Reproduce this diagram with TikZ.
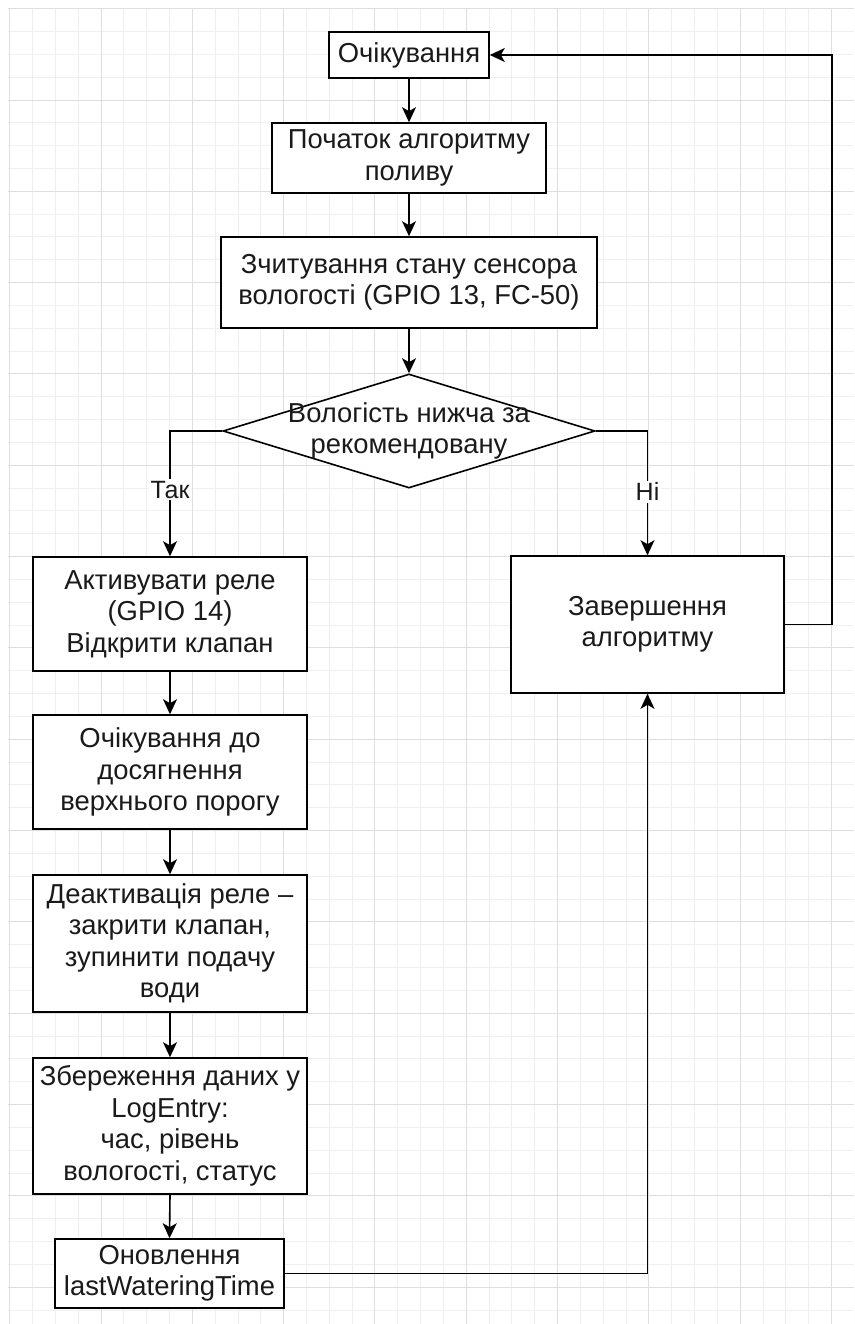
\documentclass[tikz,border=0pt]{standalone}
\usepackage{fontspec}
\setmainfont{Liberation Sans}
\usetikzlibrary{shapes.geometric,arrows.meta}
\definecolor{gridminor}{HTML}{EFEFEF}
\definecolor{gridmajor}{HTML}{DEDEDE}
\definecolor{ink}{HTML}{1A1A1A}
\begin{document}
\begin{tikzpicture}[x=1pt,y=-1pt,
  box/.style={draw=black, line width=1.6pt, fill=white, inner sep=0pt, align=center, text=ink,
    font=\fontsize{27.4}{31.5}\selectfont},
  decbox/.style={draw=black, line width=1.6pt, fill=white, diamond, inner sep=0pt},
  arr/.style={line width=1.6pt, -{Stealth[length=15pt,width=14pt,inset=4pt]}},
  lbl/.style={fill=white, inner sep=2pt, text=ink, font=\fontsize{25}{28}\selectfont}
]
\useasboundingbox (0,0) rectangle (854,1324);
\fill[white] (0,0) rectangle (854,1324);
\begin{scope}
  \clip (8,8) rectangle (854,1324);
  \foreach \i in {0,...,37} \draw[gridminor, line width=1pt] ({9.7+22.83*\i},8) -- ({9.7+22.83*\i},1324);
  \foreach \i in {0,...,58} \draw[gridminor, line width=1pt] (8,{8.7+22.83*\i}) -- (854,{8.7+22.83*\i});
  \foreach \i in {0,...,9} \draw[gridmajor, line width=1pt] ({9.7+91.32*\i},8) -- ({9.7+91.32*\i},1324);
  \foreach \i in {0,...,14} \draw[gridmajor, line width=1pt] (8,{8.7+91.32*\i}) -- (854,{8.7+91.32*\i});
\end{scope}

\node[box, minimum width=160pt, minimum height=46pt] (wait) at (409,55) {Очікування};
\node[box, minimum width=274pt, minimum height=70pt] (start) at (409,158) {Початок алгоритму\\поливу};
\node[box, minimum width=376pt, minimum height=91pt] (read) at (409,282.5) {Зчитування стану сенсора\\вологості (GPIO 13, FC-50)};
\node[decbox, minimum width=372pt, minimum height=114pt] (dec) at (409,431) {};
\node[align=center, text=ink, inner sep=0pt, font=\fontsize{27.4}{31.5}\selectfont] (dectext) at (dec.center) {Вологість нижча за\\рекомендовану};
\node[box, minimum width=274pt, minimum height=114pt] (act) at (170,614) {Активувати реле\\(GPIO 14)\\Відкрити клапан};
\node[box, minimum width=273pt, minimum height=137pt] (end) at (647.5,624.5) {Завершення\\алгоритму};
\node[box, minimum width=274pt, minimum height=114pt] (waitup) at (170,772) {Очікування до\\досягнення\\верхнього порогу};
\node[box, minimum width=274pt, minimum height=137pt] (deact) at (170,943.5) {Деактивація реле –\\закрити клапан,\\зупинити подачу\\води};
\node[box, minimum width=274pt, minimum height=136pt] (save) at (170,1126) {Збереження даних у\\LogEntry:\\час, рівень\\вологості, статус};
\node[box, minimum width=229pt, minimum height=69pt] (upd) at (169.5,1273.5) {Оновлення\\lastWateringTime};
\coordinate (rc) at (832,55);

\draw[arr] (wait.south) -- (start.north);
\draw[arr] (start.south) -- (read.north);
\draw[arr] (read.south) -- (dec.north);
\draw[arr] (dec.west) -| node[lbl, pos=0.734] {Так} (act.north);
\draw[arr] (dec.east) -| node[lbl, pos=0.744] {Ні} (end.north);
\draw[arr] (act.south) -- (waitup.north);
\draw[arr] (waitup.south) -- (deact.north);
\draw[arr] (deact.south) -- (save.north);
\draw[arr] (save.south) -- (upd.north);
\draw[arr] (upd.east) -| (end.south);
\draw[arr] (end.east) -| (rc) -- (wait.east);
\end{tikzpicture}
\end{document}
